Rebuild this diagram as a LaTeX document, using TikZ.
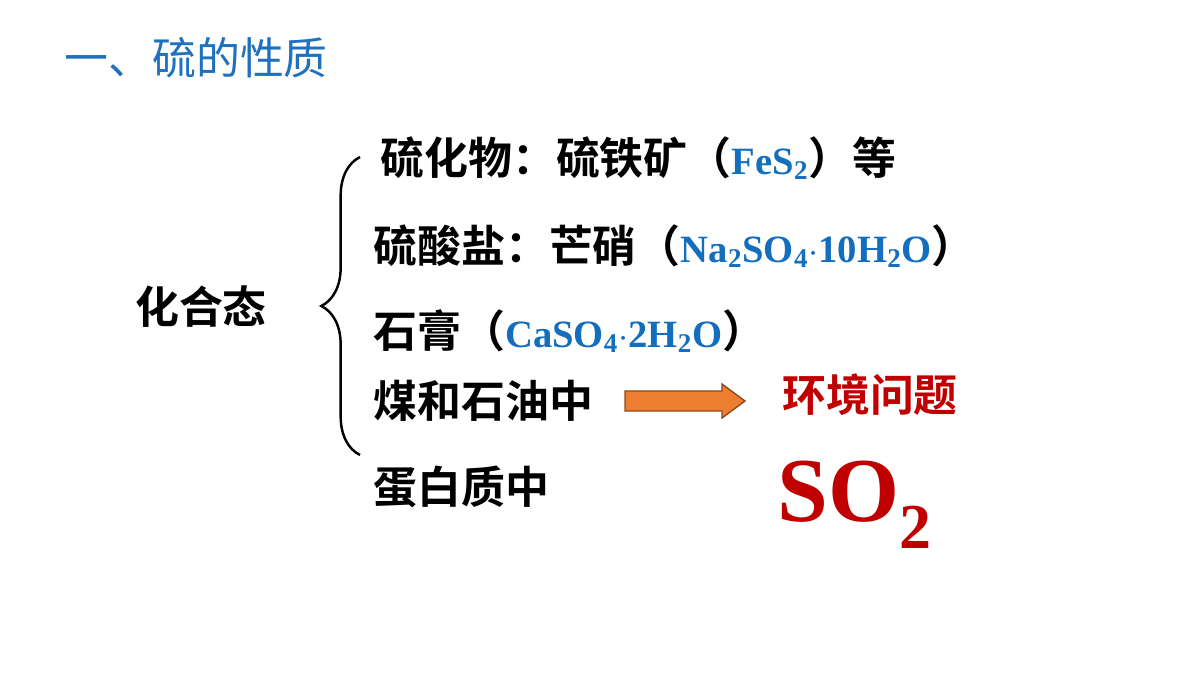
\documentclass[tikz,border=0pt]{standalone}
\usepackage{fontspec}
\usetikzlibrary{positioning, decorations.pathreplacing}
\setmainfont{Liberation Serif}
\newfontfamily\cjk{Noto Sans CJK SC}
\newfontfamily\cjkb{Noto Sans CJK SC Bold}
\newfontfamily\chemfont{Liberation Serif}
\definecolor{titleblue}{RGB}{31,113,190}
\definecolor{chemblue}{RGB}{20,110,190}
\definecolor{darkred}{RGB}{192,0,0}
\definecolor{arroworange}{RGB}{237,125,49}
\newcommand{\chem}[1]{{\color{chemblue}\chemfont\bfseries\fontsize{22}{25}\selectfont #1}}
\begin{document}
\begin{tikzpicture}[x=0.02cm, y=-0.02cm,
    item/.style={anchor=west, inner sep=0pt, font=\cjkb\fontsize{25}{28}\selectfont}]
    \useasboundingbox (0,0) rectangle (1200,675);
    % Title
    \node[anchor=west, inner sep=0pt, text=titleblue, font=\cjk\fontsize{25}{28}\selectfont] (title) at (64,58) {一、硫的性质};
    % Left label and brace
    \node[inner sep=0pt, font=\cjkb\fontsize{25}{28}\selectfont] (state) at (201,307) {化合态};
    \draw[line width=1.4pt, decorate, decoration={brace, amplitude=22pt}] (360,455) -- (360,157);
    % Items
    \node[item] (sulfide) at (380,158) {硫化物：硫铁矿（\chem{FeS\textsubscript{2}}）等};
    \node[item] (sulfate) at (373,246) {硫酸盐：芒硝（\chem{Na\textsubscript{2}SO\textsubscript{4}$\cdot$10H\textsubscript{2}O}）};
    \node[item] (gypsum) at (373,331) {石膏（\chem{CaSO\textsubscript{4}$\cdot$2H\textsubscript{2}O}）};
    \node[item] (coal) at (373,401) {煤和石油中};
    \node[item] (protein) at (373,487) {蛋白质中};
    % Consequence
    \node[inner sep=0pt, text=darkred, font=\cjkb\fontsize{25}{28}\selectfont] (env) at (870,395) {环境问题};
    \node[inner sep=0pt, text=darkred, font=\chemfont\bfseries\fontsize{52}{56}\selectfont] (so2) at (855,505) {SO\textsubscript{2}};
    \draw[arroworange!60!black, fill=arroworange, line width=0.8pt]
        (625,391) -- (722,391) -- (722,384) -- (745,401) -- (722,418) -- (722,411) -- (625,411) -- cycle;
\end{tikzpicture}
\end{document}
